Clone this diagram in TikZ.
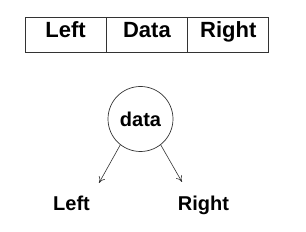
\documentclass[tikz,border=0pt]{standalone}
\usepackage{fontspec}
\setmainfont{Liberation Sans}
\usetikzlibrary{arrows.meta, positioning}
\definecolor{treeline}{HTML}{333333}

\begin{document}
\begin{tikzpicture}[
        x=1pt, y=-1pt,
        cellbox/.style={
            draw=treeline,
            line width=0.9pt,
            minimum width=81.3pt,
            minimum height=35pt,
            text height=14pt,
            text depth=7pt,
            inner sep=0pt,
            outer sep=0pt,
            font=\fontsize{22}{26}\selectfont\bfseries
        },
        treenode/.style={
            draw=treeline,
            line width=0.7pt,
            circle,
            minimum size=65pt,
            inner sep=0pt,
            font=\fontsize{20}{24}\selectfont\bfseries
        },
        childlabel/.style={
            anchor=base,
            inner sep=0pt,
            font=\fontsize{20}{24}\selectfont\bfseries
        },
        childlink/.style={-{To[length=2.2mm, width=2.4mm]}, line width=0.6pt, treeline}
    ]
        \useasboundingbox (0,0) rectangle (306,232);

        % record layout
        \node[cellbox, anchor=north west] (leftcell) at (25,17) {Left};
        \node[cellbox, right=0pt of leftcell] (datacell) {Data};
        \node[cellbox, right=0pt of datacell] (rightcell) {Right};

        % tree form
        \node[treenode] (data) at (140.5,119) {data};
        \node[childlabel] (leftchild) at (71.5,211) {Left};
        \node[childlabel] (rightchild) at (203.5,211) {Right};
        \coordinate (lefttip) at (99,183);
        \coordinate (righttip) at (182,182);

        \draw[childlink] (data.232) -- (lefttip);
        \draw[childlink] (data.308) -- (righttip);
    \end{tikzpicture}
\end{document}
